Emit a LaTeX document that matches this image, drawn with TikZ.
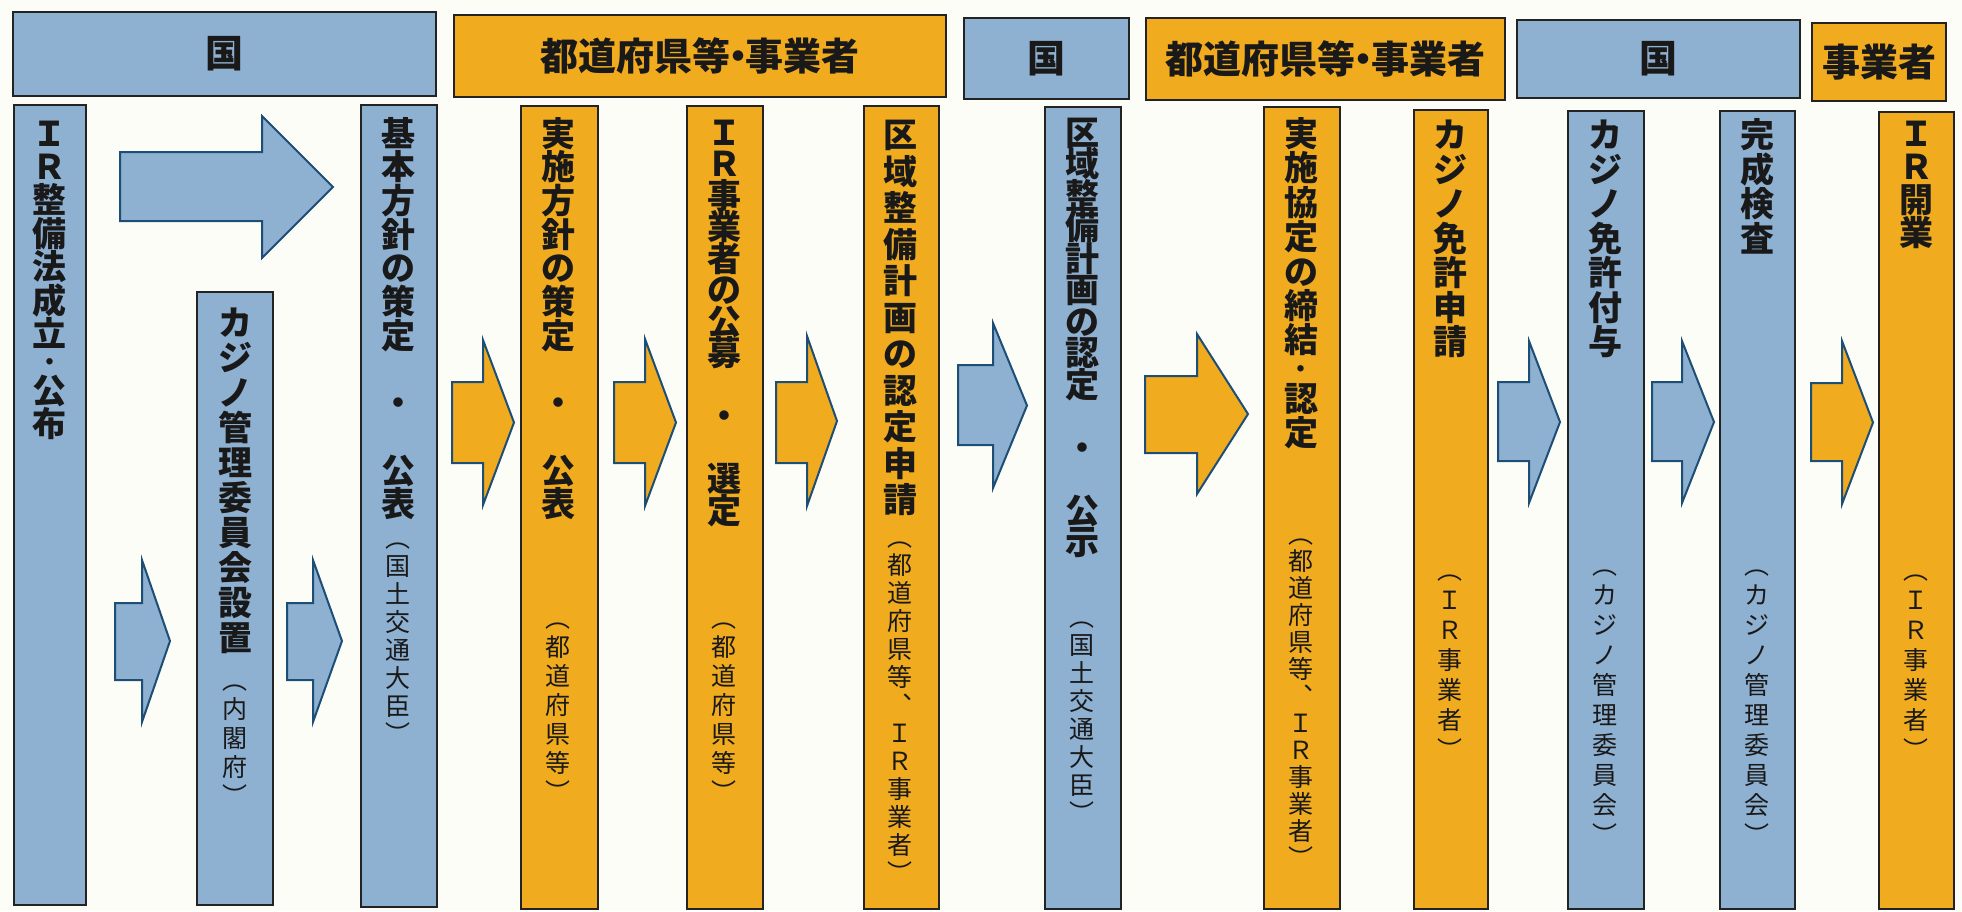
\documentclass[tikz,border=0pt]{standalone}
\usepackage{fontspec}
\newfontfamily\jp{Noto Sans CJK JP}
\definecolor{bluef}{RGB}{142,176,209}
\definecolor{orangef}{RGB}{241,171,30}
\definecolor{bgc}{RGB}{253,253,248}
\definecolor{edge}{RGB}{35,35,35}
\definecolor{arrowedge}{RGB}{28,78,118}
\definecolor{textc}{RGB}{25,25,25}
\newdimen\vtpitch
\newcommand\vtcell[1]{\vbox to\vtpitch{\vss\hbox to 1.4em{\hss\vrule height .88em depth .12em width 0pt\relax#1\hss}\vss}}
\newcommand\vtsmall[1]{\vbox to .7\vtpitch{\vss\hbox to 1.4em{\hss{\fontsize{11.5}{11.5}\selectfont\vrule height .88em depth .12em width 0pt\relax#1}\hss}\vss}}
\newcommand\tdot{・}
\ExplSyntaxOn
\cs_new:Npn \vtmap #1#2 { \tl_map_inline:nn {#2} { \tl_if_eq:nnTF {##1} {\tdot} { \vtsmall{・} } { #1 {##1} } } }
\ExplSyntaxOff
\newcommand\vstack[2]{\vtpitch=#1\relax\vbox{\offinterlineskip\vtmap\vtcell{#2}}}
\tikzset{
 colbox/.style={draw=edge, line width=1.1pt, inner sep=0pt, outer sep=0pt},
 hdrbox/.style={draw=edge, line width=1.1pt, inner sep=0pt, outer sep=0pt},
 hdrtext/.style={font=\jp\bfseries\fontsize{19}{19}\selectfont, text=textc, inner sep=0pt},
 maintext/.style={anchor=north, inner sep=0pt, font=\jp\bfseries\fontsize{17}{17}\selectfont, text=textc},
 subtext/.style={anchor=north, inner sep=0pt, font=\jp\fontsize{12.5}{12.5}\selectfont, text=textc},
 blockarrow/.style={draw=arrowedge, line width=1pt, line join=miter},
}
% name, x1, y1, x2, y2, fill
\newcommand\colbx[6]{\node[colbox, fill=#6, anchor=north west, minimum width={(#4-#2)*0.5pt}, minimum height={(#5-#3)*0.5pt}] (#1) at (#2,#3) {};}
% name, x1, y1, x2, y2, fill, text
\newcommand\hdrbx[7]{\node[hdrbox, fill=#6, anchor=north west, minimum width={(#4-#2)*0.5pt}, minimum height={(#5-#3)*0.5pt}] (#1) at (#2,#3) {};
 \node[hdrtext] (#1t) at (#1.center) {#7};}
% x0, xb, xt, y head top, y shaft top, y shaft bottom, y head bottom, fill
\newcommand\barrow[8]{\path[blockarrow, fill=#8] (#1,#5) -- (#2,#5) -- (#2,#4) -- (#3,{(#4+#7)/2}) -- (#2,#7) -- (#2,#6) -- (#1,#6) -- cycle;}
\begin{document}
\begin{tikzpicture}[x=0.5pt,y=-0.5pt]
\useasboundingbox (0,0) rectangle (1962,911);
\fill[bgc] (0,0) rectangle (1962,911);
% header bars
\hdrbx{h1}{13}{12}{436}{96}{bluef}{国}
\hdrbx{h2}{454}{15}{946}{97}{orangef}{都道府県等\kern-.3em・\kern-.3em事業者}
\hdrbx{h3}{964}{18}{1129}{99}{bluef}{国}
\hdrbx{h4}{1146}{18}{1505}{100}{orangef}{都道府県等\kern-.3em・\kern-.3em事業者}
\hdrbx{h5}{1517}{20}{1800}{98}{bluef}{国}
\hdrbx{h6}{1812}{23}{1946}{101}{orangef}{事業者}
% columns
\colbx{c1}{14}{105}{86}{905}{bluef}
\colbx{c2}{197}{292}{273}{905}{bluef}
\colbx{c3}{361}{105}{437}{907}{bluef}
\colbx{c4}{521}{106}{598}{909}{orangef}
\colbx{c5}{687}{106}{763}{909}{orangef}
\colbx{c6}{864}{106}{939}{909}{orangef}
\colbx{c7}{1045}{107}{1121}{909}{bluef}
\colbx{c8}{1264}{107}{1340}{909}{orangef}
\colbx{c9}{1414}{110}{1488}{909}{orangef}
\colbx{c10}{1568}{111}{1644}{909}{bluef}
\colbx{c11}{1720}{111}{1795}{909}{bluef}
\colbx{c12}{1879}{112}{1954}{909}{orangef}
% main texts
\node[maintext] (t1) at (50,116) {\vstack{16.7pt}{ＩＲ整備法成立\tdot 公布}};
\node[maintext] (t2) at (235,305) {\vstack{17.5pt}{カジノ管理委員会設置}};
\node[maintext] (t3) at (398,116) {\vstack{16.85pt}{基本方針の策定　・　公表}};
\node[maintext] (t4) at (558,116) {\vstack{16.85pt}{実施方針の策定　・　公表}};
\node[maintext] (t5) at (724,116) {\vstack{15.75pt}{ＩＲ事業者の公募　・　選定}};
\node[maintext] (t6) at (900,116) {\vstack{18.25pt}{区域整備計画の認定申請}};
\node[maintext] (t7) at (1082,116) {\vstack{15.75pt}{区域整備計画の認定　・　公示}};
\node[maintext] (t8) at (1301,116) {\vstack{17.2pt}{実施協定の締結\tdot 認定}};
\node[maintext] (t9) at (1450,117) {\vstack{17.25pt}{カジノ免許申請}};
\node[maintext] (t10) at (1605,117) {\vstack{17.25pt}{カジノ免許付与}};
\node[maintext] (t11) at (1757,117) {\vstack{17.25pt}{完成検査}};
\node[maintext] (t12) at (1916,117) {\vstack{16.5pt}{ＩＲ開業}};
% sub texts
\node[subtext] (s2) at (235,665) {\vstack{14.5pt}{︵内閣府︶}};
\node[subtext] (s3) at (398,524) {\vstack{14pt}{︵国土交通大臣︶}};
\node[subtext] (s4) at (558,603) {\vstack{14.5pt}{︵都道府県等︶}};
\node[subtext] (s5) at (724,603) {\vstack{14.5pt}{︵都道府県等︶}};
\node[subtext] (s6) at (900,523) {\vstack{14pt}{︵都道府県等︑ＩＲ事業者︶}};
\node[subtext] (s7) at (1082,603) {\vstack{14pt}{︵国土交通大臣︶}};
\node[subtext] (s8) at (1301,520) {\vstack{13.5pt}{︵都道府県等︑ＩＲ事業者︶}};
\node[subtext] (s9) at (1450,555) {\vstack{15pt}{︵ＩＲ事業者︶}};
\node[subtext] (s10) at (1605,550) {\vstack{15pt}{︵カジノ管理委員会︶}};
\node[subtext] (s11) at (1757,550) {\vstack{15pt}{︵カジノ管理委員会︶}};
\node[subtext] (s12) at (1916,555) {\vstack{15pt}{︵ＩＲ事業者︶}};
% block arrows
\barrow{120}{262}{333}{116}{152}{221}{258}{bluef}
\barrow{115}{142}{170}{560}{603}{680}{722}{bluef}
\barrow{287}{313}{342}{560}{603}{680}{722}{bluef}
\barrow{452}{483}{514}{340}{382}{463}{505}{orangef}
\barrow{614}{645}{676}{339}{382}{463}{506}{orangef}
\barrow{776}{807}{837}{336}{382}{463}{506}{orangef}
\barrow{958}{993}{1027}{323}{365}{445}{488}{bluef}
\barrow{1145}{1197}{1248}{334}{376}{453}{494}{orangef}
\barrow{1498}{1529}{1560}{341}{382}{461}{503}{bluef}
\barrow{1652}{1682}{1714}{341}{382}{461}{503}{bluef}
\barrow{1811}{1842}{1873}{341}{383}{461}{504}{orangef}
\end{tikzpicture}
\end{document}
